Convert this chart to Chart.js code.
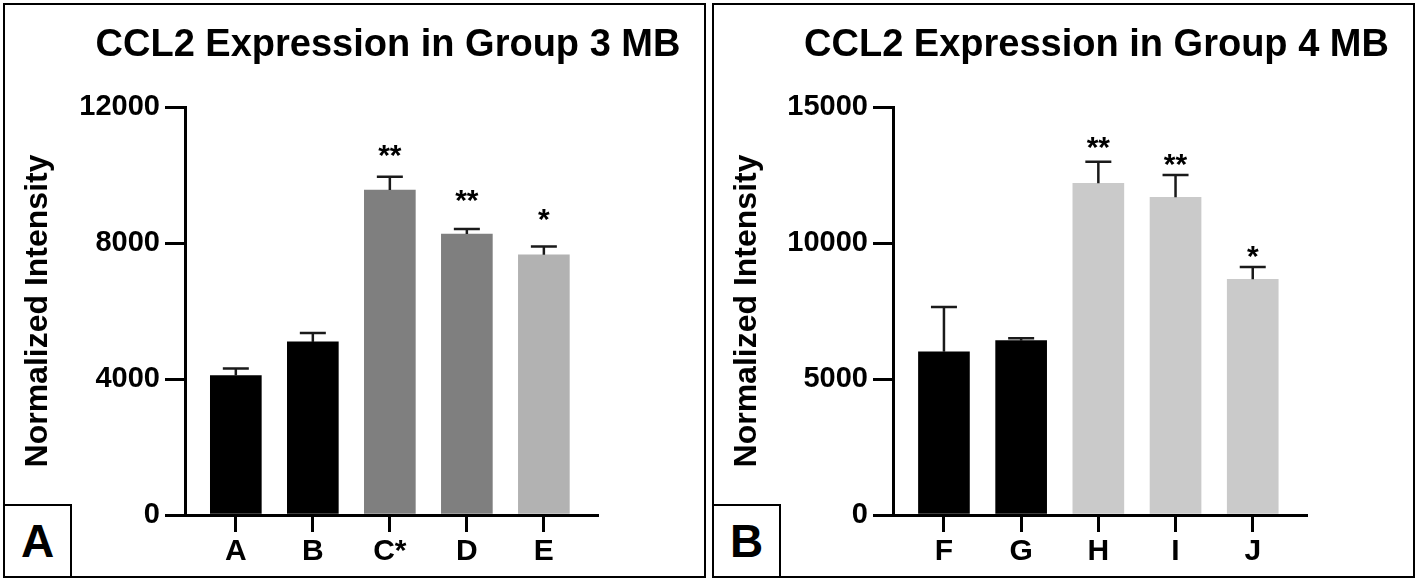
<!DOCTYPE html>
<html lang="en">
<head>
<meta charset="UTF-8">
<title>CCL2 Expression in Group 3 / Group 4 MB</title>
<script src="https://cdn.jsdelivr.net/npm/chart.js"></script>
<style>
  body { margin: 0; background: #fff; font-family: "Liberation Sans", Arial, sans-serif; overflow: hidden; }
  canvas { position: absolute; top: 0; }
  .panel { position: absolute; top: 3px; width: 703px; height: 575px; box-sizing: border-box; border: 2px solid #000; }
  .tag { position: absolute; top: 504px; width: 69px; height: 74px; box-sizing: border-box; border: 2px solid #000;
         display: flex; align-items: center; justify-content: center; font-weight: bold; font-size: 46px; background: #fff; }
</style>
</head>
<body>
<canvas id="chartA" width="709" height="581" style="left:0"></canvas>
<canvas id="chartB" width="709" height="581" style="left:709px"></canvas>
<div class="panel" style="left:3px"></div>
<div class="panel" style="left:712px"></div>
<div class="tag" style="left:3px">A</div>
<div class="tag" style="left:712px">B</div>

<script>
// Panel A - Group 3
const labelsA = ['A', 'B', 'C*', 'D', 'E'];
const meansA = [4100, 5090, 9560, 8265, 7655];
const errorsA = [210, 265, 390, 150, 240];
const starsA = ['', '', '**', '**', '*'];
const starLevelA = [0, 0, 10800, 9470, 8910];
const colorsA = ['#000000', '#000000', '#7f7f7f', '#7f7f7f', '#b2b2b2'];

// Panel B - Group 4
const labelsB = ['F', 'G', 'H', 'I', 'J'];
const meansB = [6000, 6410, 12195, 11680, 8665];
const errorsB = [1650, 90, 795, 820, 450];
const starsB = ['', '', '**', '**', '*'];
const starLevelB = [0, 0, 13790, 13170, 9780];
const colorsB = ['#000000', '#000000', '#cacaca', '#cacaca', '#cacaca'];

Chart.defaults.color = '#000';
Chart.defaults.font.family = '"Liberation Sans", Arial, sans-serif';
Chart.defaults.font.weight = 'bold';

// error bars, significance stars and the title (centred over the plot area)
const extras = {
  id: 'extras',
  afterDatasetsDraw(chart, args, opts) {
    const ctx = chart.ctx, xs = chart.scales.x, ys = chart.scales.y;
    const area = chart.chartArea;
    ctx.save();
    ctx.strokeStyle = '#1a1a1a';
    ctx.lineWidth = 2.5;
    opts.means.forEach((m, i) => {
      const px = xs.getPixelForValue(i);
      const yb = ys.getPixelForValue(m);
      const yt = ys.getPixelForValue(m + opts.errors[i]);
      ctx.beginPath();
      ctx.moveTo(px, yb); ctx.lineTo(px, yt);
      ctx.moveTo(px - 13, yt); ctx.lineTo(px + 13, yt);
      ctx.stroke();
      if (opts.stars[i]) {
        ctx.fillStyle = '#000';
        ctx.font = 'bold 30px "Liberation Sans", Arial, sans-serif';
        ctx.textAlign = 'center';
        ctx.textBaseline = 'alphabetic';
        ctx.fillText(opts.stars[i], px, ys.getPixelForValue(opts.levels[i]) + 17);
      }
    });
    ctx.fillStyle = '#000';
    ctx.font = 'bold 38px "Liberation Sans", Arial, sans-serif';
    ctx.textAlign = 'center';
    ctx.textBaseline = 'alphabetic';
    ctx.fillText(opts.title, (area.left + area.right) / 2 - 3, 56);
    ctx.restore();
  }
};

function makeChart(id, title, labels, means, errors, stars, levels, colors, yMax, yStep, yWidth) {
  return new Chart(document.getElementById(id), {
    type: 'bar',
    data: {
      datasets: [{
        data: means.map((v, i) => ({ x: i, y: v })),
        backgroundColor: colors,
        barThickness: 51
      }]
    },
    options: {
      responsive: false,
      animation: false,
      devicePixelRatio: 1,
      layout: { padding: { left: 0, right: 112, top: 107, bottom: 0 } },
      plugins: {
        legend: { display: false },
        tooltip: { enabled: false },
        title: { display: false },
        extras: { means, errors, stars, levels, title }
      },
      scales: {
        x: {
          type: 'linear', min: -0.66, max: 4.69, offset: false,
          afterFit: s => { s.height = 66; },
          border: { display: true, color: '#000', width: 3 },
          grid: { display: true, offset: false, drawOnChartArea: false, drawTicks: true, tickLength: 17, color: '#000', lineWidth: 3 },
          ticks: {
            stepSize: 1, includeBounds: false, padding: 2,
            font: { size: 30, weight: 'bold' },
            callback: v => labels[v] ?? ''
          }
        },
        y: {
          min: 0, max: yMax,
          afterFit: s => { s.width = yWidth; },
          border: { display: true, color: '#000', width: 3 },
          grid: { display: true, drawOnChartArea: false, drawTicks: true, tickLength: 20, color: '#000', lineWidth: 3 },
          ticks: { stepSize: yStep, padding: 5, font: { size: 29, weight: 'bold' }, callback: v => String(v) },
          title: {
            display: true, text: 'Normalized Intensity',
            font: { size: 32, weight: 'bold', lineHeight: 1 },
            padding: { top: 22, bottom: 0 }
          }
        }
      }
    },
    plugins: [extras]
  });
}

makeChart('chartA', 'CCL2 Expression in Group 3 MB', labelsA, meansA, errorsA, starsA, starLevelA, colorsA, 12000, 4000, 185);
makeChart('chartB', 'CCL2 Expression in Group 4 MB', labelsB, meansB, errorsB, starsB, starLevelB, colorsB, 15000, 5000, 184);
</script>
</body>
</html>
